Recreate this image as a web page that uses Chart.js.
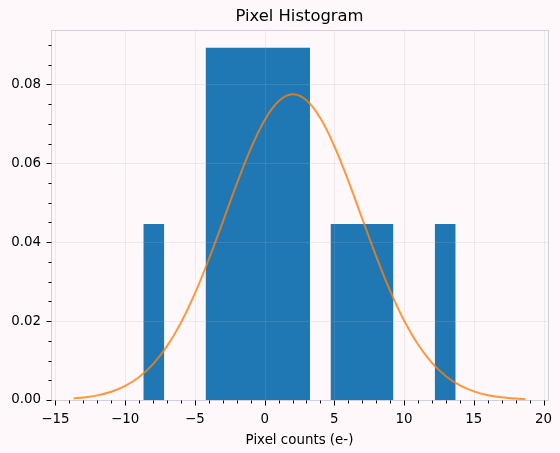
<!DOCTYPE html>
<html>
<head>
<meta charset="utf-8">
<script src="https://cdn.jsdelivr.net/npm/chart.js@4/dist/chart.umd.min.js"></script>
<style>
    html, body { margin: 0; padding: 0; background: #fef8fa; }
</style>
</head>
<body>
<canvas id="histChart" width="560" height="453"></canvas>
<script>
// histogram bins (density)
const binEdges = [-8.70, -7.21, -5.71, -4.22, -2.73, -1.23, 0.26, 1.75, 3.25, 4.74, 6.23, 7.73, 9.22, 10.71, 12.21, 13.70];
const binDensity = [0.0446, 0, 0, 0.0893, 0.0893, 0.0893, 0.0893, 0.0893, 0, 0.0446, 0.0446, 0.0446, 0, 0, 0.0446];

// fitted curve
const curveX = [-13.7, -13, -12, -11, -10, -9, -8, -7, -6, -5, -4, -3, -2, -1, 0, 1, 2, 3, 4, 5, 6, 7, 8, 9, 10, 11, 12, 13, 14, 15, 16, 17, 18, 18.7];
const curveY = [0.0004, 0.00063, 0.00117, 0.00209, 0.00356, 0.00581, 0.0091, 0.01365, 0.01962, 0.02703, 0.03569, 0.04517, 0.05478, 0.06368, 0.07094, 0.07574, 0.0775, 0.0760, 0.07142, 0.06433, 0.05554, 0.04594, 0.03643, 0.02768, 0.02016, 0.01407, 0.00941, 0.00604, 0.00371, 0.00218, 0.00123, 0.00067, 0.00035, 0.00021];

const xMajorTicks = [-15, -10, -5, 0, 5, 10, 15, 20];
const xMinorTicks = [-14, -13, -12, -11, -9, -8, -7, -6, -4, -3, -2, -1, 1, 2, 3, 4, 6, 7, 8, 9, 11, 12, 13, 14, 16, 17, 18, 19];
const yMajorTicks = [0, 0.02, 0.04, 0.06, 0.08];
const yMinorTicks = [0.005, 0.01, 0.015, 0.025, 0.03, 0.035, 0.045, 0.05, 0.055, 0.065, 0.07, 0.075, 0.085, 0.09];

const fontFamily = 'DejaVu Sans';

// stepped points: each bin value holds from its left edge to the next edge
const histPoints = binEdges.map((edge, i) => ({
    x: edge,
    y: i < binDensity.length ? binDensity[i] : binDensity[binDensity.length - 1]
}));
const curvePoints = curveX.map((x, i) => ({ x: x, y: curveY[i] }));

const axesDecor = {
    id: 'axesDecor',
    beforeDraw(chart) {
        const ctx = chart.ctx;
        ctx.save();
        ctx.fillStyle = '#fef8fa';
        ctx.fillRect(0, 0, chart.width, chart.height);
        ctx.restore();
    },
    afterDatasetDraw(chart, args) {
        // grid goes above the bars but under the curve
        if (args.index !== 1) return;
        const ctx = chart.ctx;
        const area = chart.chartArea;
        const xs = chart.scales.x, ys = chart.scales.y;
        ctx.save();
        ctx.strokeStyle = 'rgba(176,176,176,0.2)';
        ctx.lineWidth = 1;
        ctx.beginPath();
        xMajorTicks.forEach(v => {
            const px = Math.round(xs.getPixelForValue(v)) + 0.5;
            ctx.moveTo(px, area.top);
            ctx.lineTo(px, area.bottom);
        });
        yMajorTicks.forEach(v => {
            const py = Math.round(ys.getPixelForValue(v)) + 0.5;
            ctx.moveTo(area.left, py);
            ctx.lineTo(area.right, py);
        });
        ctx.stroke();
        ctx.restore();
    },
    afterDraw(chart) {
        const ctx = chart.ctx;
        const area = chart.chartArea;
        const xs = chart.scales.x, ys = chart.scales.y;
        ctx.save();
        // frame
        ctx.strokeStyle = '#d0d0da';
        ctx.lineWidth = 1;
        ctx.strokeRect(Math.round(area.left) + 0.5, Math.round(area.top) + 0.5,
            Math.round(area.right - area.left), Math.round(area.bottom - area.top));
        // tick marks
        ctx.strokeStyle = '#000';
        ctx.beginPath();
        const bottom = Math.round(area.bottom) + 0.5;
        const left = Math.round(area.left) + 0.5;
        xMajorTicks.forEach(v => {
            const px = Math.round(xs.getPixelForValue(v)) + 0.5;
            ctx.moveTo(px, bottom); ctx.lineTo(px, bottom + 5);
        });
        xMinorTicks.forEach(v => {
            const px = Math.round(xs.getPixelForValue(v)) + 0.5;
            ctx.moveTo(px, bottom); ctx.lineTo(px, bottom + 3);
        });
        yMajorTicks.forEach(v => {
            const py = Math.round(ys.getPixelForValue(v)) + 0.5;
            ctx.moveTo(left, py); ctx.lineTo(left - 5, py);
        });
        yMinorTicks.forEach(v => {
            const py = Math.round(ys.getPixelForValue(v)) + 0.5;
            ctx.moveTo(left, py); ctx.lineTo(left - 3, py);
        });
        ctx.stroke();
        ctx.restore();
    }
};

new Chart(document.getElementById('histChart'), {
    type: 'line',
    data: {
        datasets: [{
            data: curvePoints,
            borderColor: 'rgba(255,127,14,0.8)',
            borderWidth: 2,
            pointRadius: 0,
            tension: 0.4,
            fill: false
        }, {
            data: histPoints,
            stepped: true,
            fill: 'origin',
            backgroundColor: '#1f77b4',
            borderColor: 'rgba(0,0,0,0)',
            borderWidth: 0,
            pointRadius: 0,
            tension: 0
        }]
    },
    options: {
        responsive: false,
        animation: false,
        layout: { padding: { left: 0, right: 12, top: 0, bottom: 0 } },
        plugins: {
            legend: { display: false },
            tooltip: { enabled: false },
            title: {
                display: true,
                text: 'Pixel Histogram',
                fullSize: false,
                color: '#000',
                font: { family: fontFamily, size: 16.4, weight: 'normal' },
                padding: { top: 7, bottom: 3.3 }
            }
        },
        scales: {
            x: {
                type: 'linear',
                min: -15.32,
                max: 20.32,
                afterBuildTicks: scale => { scale.ticks = xMajorTicks.map(v => ({ value: v })); },
                afterFit: scale => {
                    scale.height = 53;
                    // edge labels may hang past the plot, like matplotlib
                    scale.paddingLeft = 0;
                    scale.paddingRight = 0;
                },
                grid: { display: false, drawTicks: false },
                border: { display: false },
                ticks: {
                    autoSkip: false,
                    maxRotation: 0,
                    padding: 11,
                    color: '#000',
                    font: { family: fontFamily, size: 13.4 },
                    callback: v => v < 0 ? '\u2212' + Math.abs(v) : String(v)
                },
                title: {
                    display: true,
                    text: 'Pixel counts (e-)',
                    color: '#000',
                    font: { family: fontFamily, size: 13.4 },
                    padding: { top: 0, bottom: 4 }
                }
            },
            y: {
                min: 0,
                max: 0.0938,
                afterBuildTicks: scale => { scale.ticks = yMajorTicks.map(v => ({ value: v })); },
                afterFit: scale => { scale.width = 51; },
                grid: { display: false, drawTicks: false },
                border: { display: false },
                ticks: {
                    padding: 10,
                    color: '#000',
                    font: { family: fontFamily, size: 13.4 },
                    callback: v => v.toFixed(2)
                }
            }
        }
    },
    plugins: [axesDecor]
});
</script>
</body>
</html>
